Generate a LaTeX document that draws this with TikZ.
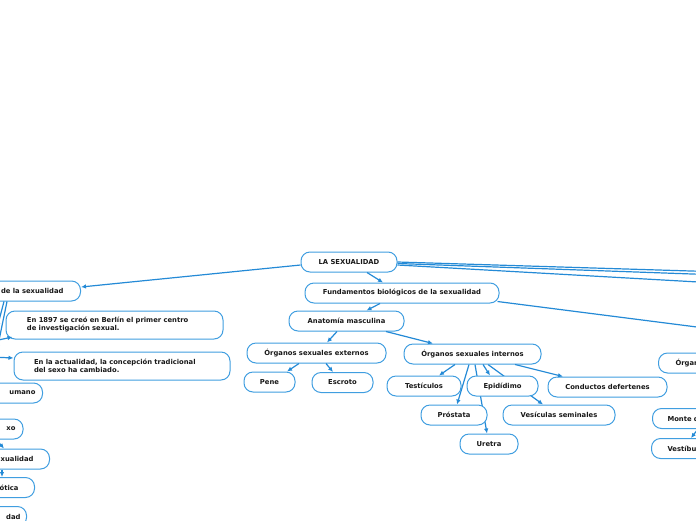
\documentclass[tikz,border=0pt]{standalone}
\usepackage{fontspec}
\setmainfont{DejaVu Sans}
\usetikzlibrary{arrows.meta,backgrounds}
\definecolor{bx}{RGB}{64,158,224}
\definecolor{ln}{RGB}{36,138,214}
\definecolor{tx}{RGB}{25,25,25}
\begin{document}
\begin{tikzpicture}[x=1pt,y=-1pt,
  box/.style={draw=bx,line width=1pt,fill=white,rounded corners=9pt,
    font=\fontsize{6.8}{8}\selectfont\bfseries,text=tx,inner sep=0pt,
    minimum height=20pt,align=center},
  cutl/.style={box,anchor=east,align=right,text width=110pt},
  cutr/.style={box,anchor=west,align=left,text width=80pt},
  con/.style={draw=ln,line width=1.2pt,-{Latex[length=5pt,width=4.5pt]}}]
\useasboundingbox (0,0) rectangle (696,520);
\clip (0,0) rectangle (696,520);

% nodes
\node[box,minimum width=96pt] (sex) at (349,262) {LA SEXUALIDAD};
\node[cutl,inner xsep=17pt] (hist) at (81,291) {de la sexualidad};
\node[box,minimum width=217pt,minimum height=28pt,text width=175pt,align=left] (n1897) at (114.5,325)
  {En 1897 se creó en Berlín el primer centro\\de investigación sexual.};
\node[box,minimum width=216pt,minimum height=28pt,text width=176pt,align=left] (nact) at (122,366)
  {En la actualidad, la concepción tradicional\\del sexo ha cambiado.};
\node[cutl,inner xsep=7pt] (hum) at (43,393) {umano};
\node[cutl,inner xsep=7.5pt] (xo) at (23.5,429) {xo};
\node[cutl,inner xsep=16pt] (xual) at (50,459) {xualidad};
\node[cutl,inner xsep=16pt] (otica) at (35,487.5) {ótica};
\node[cutl,inner xsep=6pt] (dad) at (27,516.5) {dad};

\node[box,minimum width=194pt] (fund) at (402,293) {Fundamentos biológicos de la sexualidad};
\node[box,minimum width=115pt] (anat) at (346.5,321) {Anatomía masculina};
\node[box,minimum width=139pt] (ext) at (316.5,353) {Órganos sexuales externos};
\node[box,minimum width=137pt] (int) at (472.5,354) {Órganos sexuales internos};
\node[box,minimum width=51pt] (pene) at (269.5,382) {Pene};
\node[box,minimum width=61pt] (escroto) at (342.5,382.5) {Escroto};
\node[box,minimum width=74pt] (test) at (424,386) {Testículos};
\node[box,minimum width=71pt] (epid) at (502.5,386) {Epidídimo};
\node[box,minimum width=119pt] (cond) at (607.5,387) {Conductos defertenes};
\node[box,minimum width=66pt] (prost) at (454,415) {Próstata};
\node[box,minimum width=112pt] (vesic) at (559,415) {Vesículas seminales};
\node[box,minimum width=58pt] (uretra) at (489,444) {Uretra};
\node[cutr,inner xsep=17pt] (organ) at (658,363) {Órgan};
\node[cutr,inner xsep=15pt] (monte) at (652,418.5) {Monte d};
\node[cutr,inner xsep=16pt] (vestib) at (651,448.5) {Vestíbu};

% off-canvas ends
\coordinate (offA) at (900,277.4);
\coordinate (offB) at (900,281.4);
\coordinate (offC) at (900,293.4);
\coordinate (offF) at (900,353);
\coordinate (offL1) at (-30,346);
\coordinate (offL2) at (-30,356);
\coordinate (offS1) at (-3,350);
\coordinate (offS2) at (-3,328);
\coordinate (offX) at (-6,437);

% connectors behind nodes
\begin{pgfonlayer}{background}
\draw[con] ([xshift=-3.5pt]int.south) -- ([xshift=3pt]prost.north);
\draw[con] ([xshift=2.5pt]int.south) -- ([xshift=-2pt]uretra.north);
\draw[con] ([xshift=15.5pt]int.south) -- ([xshift=-16pt]vesic.north);
\end{pgfonlayer}

% connectors
\draw[con] ([yshift=-3pt]sex.west) -- ([yshift=4pt]hist.east);
\draw[con] ([xshift=18pt]sex.south) -- ([xshift=-19pt]fund.north);
\draw[con] ([xshift=-22pt]fund.south) -- ([xshift=20pt]anat.north);
\draw[con] ([xshift=-9.5pt]anat.south) -- ([xshift=10.5pt]ext.north);
\draw[con] ([xshift=39.5pt]anat.south) -- ([xshift=-39.5pt]int.north);
\draw[con] ([xshift=-17.5pt]ext.south) -- ([xshift=17.5pt]pene.north);
\draw[con] ([xshift=9.5pt]ext.south) -- ([xshift=-9.5pt]escroto.north);
\draw[con] ([xshift=-17.5pt]int.south) -- ([xshift=15pt]test.north);
\draw[con] ([xshift=10.5pt]int.south) -- ([xshift=-12.5pt]epid.north);
\draw[con] ([xshift=42.5pt]int.south) -- ([xshift=-44.5pt]cond.north);
\draw[con] (sex.east) -- (offA);
\draw[con] ([yshift=-1.5pt]sex.east) -- (offB);
\draw[con] ([yshift=-3pt]sex.east) -- (offC);
\draw[con] ([xshift=-2pt,yshift=2pt]fund.south east) -- (offF);
\draw[con] (offL1) -- ([xshift=7pt,yshift=-12pt]n1897.west);
\draw[con] (offL2) -- ([yshift=8pt]nact.west);
\draw[con] ([xshift=-74pt]hist.south east) -- (offS1);
\draw[con] ([xshift=-77pt]hist.south east) -- (offS2);
\draw[con] (offX) -- ([xshift=-46pt]xual.north east);
\draw[con] ([xshift=-48pt]xual.south east) -- ([xshift=-33pt]otica.north east);
\draw[con] ([xshift=46pt]monte.south west) -- ([xshift=40pt]vestib.north west);
\end{tikzpicture}
\end{document}
